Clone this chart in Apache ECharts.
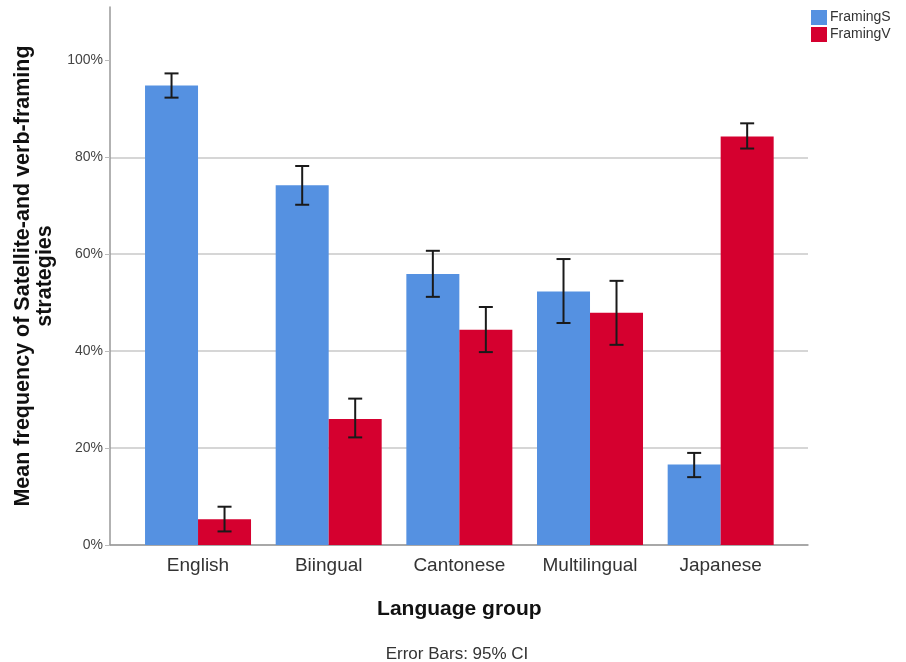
<!DOCTYPE html>
<html>
<head>
<meta charset="utf-8">
<script src="https://cdn.jsdelivr.net/npm/echarts@6/dist/echarts.min.js"></script>
<style>
  html, body { margin: 0; padding: 0; background: #fff; }
  #chart { width: 906px; height: 662px; }
</style>
</head>
<body>
<div id="chart"></div>
<script>
// 数据部分
const groups = ["English", "Biingual", "Cantonese", "Multilingual", "Japanese"];
const framingS = [0.948, 0.742, 0.559, 0.523, 0.166];
const framingV = [0.053, 0.260, 0.444, 0.479, 0.843];
// 95% CI 上下限
const framingSLow = [0.923, 0.702, 0.512, 0.458, 0.140];
const framingSHigh = [0.973, 0.782, 0.607, 0.590, 0.190];
const framingVLow = [0.028, 0.222, 0.398, 0.413, 0.818];
const framingVHigh = [0.079, 0.302, 0.491, 0.545, 0.870];
const yTicks = [0, 0.2, 0.4, 0.6, 0.8, 1.0];

const BLUE = "#5591e1";
const RED = "#d5002f";
const FONT = "Arial, 'Liberation Sans', sans-serif";
const BAR_W = 53;
const Y_MAX = 1.11;

// 误差线绘制
function errorBar(offset) {
  return function (params, api) {
    const lo = api.coord([api.value(0), api.value(1)]);
    const hi = api.coord([api.value(0), api.value(2)]);
    const x = lo[0] + offset;
    const cap = 7;
    const style = { stroke: "#1a1a1a", lineWidth: 2 };
    return {
      type: "group",
      children: [
        { type: "line", shape: { x1: x, y1: hi[1], x2: x, y2: lo[1] }, style: style },
        { type: "line", shape: { x1: x - cap, y1: hi[1], x2: x + cap, y2: hi[1] }, style: style },
        { type: "line", shape: { x1: x - cap, y1: lo[1], x2: x + cap, y2: lo[1] }, style: style }
      ]
    };
  };
}

const chart = echarts.init(document.getElementById("chart"), null, { renderer: "canvas" });

chart.setOption({
  animation: false,
  backgroundColor: "#fff",
  textStyle: { fontFamily: FONT },
  title: {
    text: "Error Bars: 95% CI",
    left: 452,
    top: 641,
    textAlign: "center",
    textStyle: { fontSize: 17, fontWeight: "normal", color: "#333", fontFamily: FONT }
  },
  legend: {
    data: ["FramingS", "FramingV"],
    orient: "vertical",
    left: 811,
    top: 10,
    padding: 0,
    itemWidth: 16,
    itemHeight: 15,
    itemGap: 2,
    icon: "rect",
    textStyle: { fontSize: 14, color: "#333", padding: [0, 0, 0, -2], fontFamily: FONT }
  },
  grid: [
    // 柱子所在网格
    { left: 132.7, right: 120, top: 7, bottom: 117 },
    // 坐标轴与网格线
    { left: 110, right: 98, top: 7, bottom: 117 }
  ],
  xAxis: [
    {
      type: "category",
      gridIndex: 0,
      data: groups,
      axisLine: { show: false },
      axisTick: { show: false },
      axisLabel: { fontSize: 19, color: "#333", margin: 11, fontFamily: FONT },
      name: "Language group",
      nameLocation: "middle",
      nameGap: 54,
      nameTextStyle: { fontSize: 21, fontWeight: "bold", color: "#111", fontFamily: FONT }
    },
    {
      type: "value",
      gridIndex: 1,
      min: 0,
      max: 1,
      axisLine: { show: true, lineStyle: { color: "#999", width: 1.5 } },
      axisTick: { show: false },
      axisLabel: { show: false },
      splitLine: { show: false }
    }
  ],
  yAxis: [
    {
      type: "value",
      gridIndex: 0,
      min: 0,
      max: Y_MAX,
      show: false
    },
    {
      type: "value",
      gridIndex: 1,
      min: 0,
      max: Y_MAX,
      interval: 0.2,
      axisLine: { show: true, lineStyle: { color: "#999", width: 1.5 } },
      axisTick: { show: true, length: 5, customValues: yTicks, lineStyle: { color: "#bbb" } },
      axisLabel: {
        customValues: yTicks,
        fontSize: 14,
        color: "#444",
        margin: 7,
        fontFamily: FONT,
        formatter: function (v) { return Math.round(v * 100) + "%"; }
      },
      splitLine: { show: true, showMaxLine: false, lineStyle: { color: "#c8c8c8", width: 1.5 } },
      name: "Mean frequency of Satellite-and verb-framing\nstrategies",
      nameLocation: "middle",
      nameGap: 47,
      nameTextStyle: { fontSize: 21.5, fontWeight: "bold", color: "#111", lineHeight: 22, fontFamily: FONT }
    }
  ],
  series: [
    {
      name: "FramingS",
      type: "bar",
      xAxisIndex: 0,
      yAxisIndex: 0,
      data: framingS,
      barWidth: BAR_W,
      barGap: "0%",
      itemStyle: { color: BLUE }
    },
    {
      name: "FramingV",
      type: "bar",
      xAxisIndex: 0,
      yAxisIndex: 0,
      data: framingV,
      barWidth: BAR_W,
      barGap: "0%",
      itemStyle: { color: RED }
    },
    {
      name: "errS",
      type: "custom",
      xAxisIndex: 0,
      yAxisIndex: 0,
      renderItem: errorBar(-BAR_W / 2),
      data: groups.map(function (g, i) { return [i, framingSLow[i], framingSHigh[i]]; }),
      encode: { x: 0, y: [1, 2] },
      z: 5
    },
    {
      name: "errV",
      type: "custom",
      xAxisIndex: 0,
      yAxisIndex: 0,
      renderItem: errorBar(BAR_W / 2),
      data: groups.map(function (g, i) { return [i, framingVLow[i], framingVHigh[i]]; }),
      encode: { x: 0, y: [1, 2] },
      z: 5
    }
  ]
});
</script>
</body>
</html>
